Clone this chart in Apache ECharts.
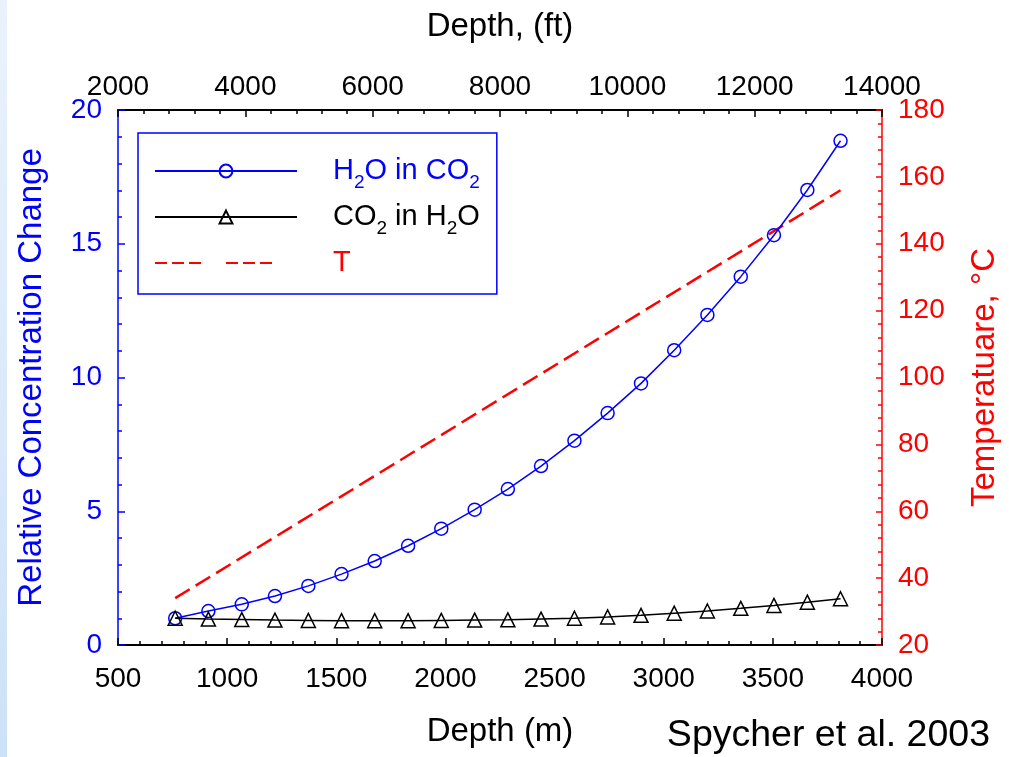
<!DOCTYPE html>
<html>
<head>
<meta charset="utf-8">
<script src="https://cdn.jsdelivr.net/npm/echarts@6/dist/echarts.min.js"></script>
<style>
html,body{margin:0;padding:0;background:#fff;}
#chart{width:1009px;height:757px;}
</style>
</head>
<body>
<div id="chart"></div>
<script>
// Depth (m) of the plotted points
var depthM = [762, 914, 1067, 1219, 1372, 1524, 1676, 1829, 1981, 2134, 2286, 2438, 2591, 2743, 2896, 3048, 3200, 3353, 3505, 3658, 3810];
// Relative concentration change, H2O in CO2
var h2oInCo2 = [1.0, 1.27, 1.52, 1.83, 2.21, 2.65, 3.14, 3.71, 4.35, 5.06, 5.83, 6.69, 7.64, 8.67, 9.78, 11.02, 12.34, 13.77, 15.32, 17.01, 18.85];
// Relative concentration change, CO2 in H2O
var co2InH2o = [1.0, 0.97, 0.95, 0.93, 0.92, 0.91, 0.91, 0.91, 0.92, 0.93, 0.94, 0.97, 1.0, 1.05, 1.11, 1.19, 1.27, 1.37, 1.48, 1.6, 1.73];
// Temperature line (end points)
var tempDepth = [762, 3810];
var tempC = [34, 156];

var seriesNames = ['H2O in CO2', 'CO2 in H2O', 'T'];
var legendRich = {
  'H2O in CO2': '{n|H}{s|2}{n|O in CO}{s|2}',
  'CO2 in H2O': '{n|CO}{s|2}{n| in H}{s|2}{n|O}',
  'T': '{t|T}'
};

function pairs(xs, ys) {
  return xs.map(function (x, i) { return [x, ys[i]]; });
}
function plain(v) { return String(v); }

var FONT = '"Liberation Sans", Arial, Helvetica, sans-serif';
var BLUE = '#0000ff', RED = '#ff0000', BLACK = '#000000';
var NONE = 'rgba(255,255,255,0)';

var chart = echarts.init(document.getElementById('chart'), null, {renderer: 'canvas'});

chart.setOption({
  backgroundColor: '#ffffff',
  animation: false,
  textStyle: {fontFamily: FONT},
  grid: {left: 118, right: 127, top: 110, bottom: 112},
  graphic: [
    {
      type: 'rect', silent: true,
      shape: {x: 0, y: 0, width: 7, height: 757},
      style: {fill: new echarts.graphic.LinearGradient(0, 0, 0, 1, [
        {offset: 0, color: '#eaf2fc'}, {offset: 1, color: '#cde1f8'}
      ])}
    },
    {
      type: 'text', silent: true,
      style: {
        text: 'Spycher et al. 2003', x: 990, y: 736,
        align: 'right', verticalAlign: 'middle',
        fontSize: 37.5, fontFamily: FONT, fill: '#000'
      }
    }
  ],
  legend: {
    left: 138, top: 133,
    orient: 'vertical',
    itemWidth: 142, itemHeight: 16, itemGap: 10,
    padding: [23.5, 17, 16.5, 16],
    borderColor: BLUE, borderWidth: 1.5,
    backgroundColor: '#fff',
    data: [
      {name: seriesNames[0], textStyle: {color: BLUE}},
      {name: seriesNames[1], textStyle: {color: BLACK}},
      {name: seriesNames[2], textStyle: {color: RED},
       itemStyle: {color: NONE, borderColor: NONE, borderWidth: 0, opacity: 0},
       lineStyle: {type: [12, 5, 12, 5, 12, 25]}}
    ],
    formatter: function (name) { return legendRich[name]; },
    textStyle: {
      fontFamily: FONT, fontSize: 29,
      padding: [0, 0, 0, 31],
      rich: {
        n: {fontSize: 29, lineHeight: 43, fontFamily: FONT},
        s: {fontSize: 19, verticalAlign: 'bottom', fontFamily: FONT},
        t: {fontSize: 29, lineHeight: 33, fontFamily: FONT}
      }
    }
  },
  xAxis: [
    {
      type: 'value', position: 'bottom',
      min: 500, max: 4000, interval: 500,
      name: 'Depth (m)', nameLocation: 'middle', nameGap: 70,
      nameTextStyle: {fontSize: 33, color: BLACK, fontFamily: FONT},
      axisLine: {show: true, lineStyle: {color: BLACK, width: 2}},
      axisTick: {show: true, inside: true, length: 7, lineStyle: {color: BLACK, width: 1.5}},
      minorTick: {show: true, splitNumber: 5, length: 4, lineStyle: {color: BLACK, width: 1.5}},
      axisLabel: {fontSize: 28, color: BLACK, margin: 20, fontFamily: FONT, formatter: plain},
      splitLine: {show: false}
    },
    {
      type: 'value', position: 'top',
      min: 2000, max: 14000, interval: 2000,
      name: 'Depth, (ft)', nameLocation: 'middle', nameGap: 67,
      nameTextStyle: {fontSize: 33, color: BLACK, fontFamily: FONT},
      axisLine: {show: true, lineStyle: {color: BLACK, width: 2}},
      axisTick: {show: true, inside: true, length: 7, lineStyle: {color: BLACK, width: 1.5}},
      minorTick: {show: true, splitNumber: 5, length: 4, lineStyle: {color: BLACK, width: 1.5}},
      axisLabel: {fontSize: 28, color: BLACK, margin: 9, fontFamily: FONT, formatter: plain},
      splitLine: {show: false}
    }
  ],
  yAxis: [
    {
      type: 'value', position: 'left',
      min: 0, max: 20, interval: 5,
      name: 'Relative Concentration Change', nameLocation: 'middle', nameGap: 70, nameRotate: 90,
      nameTextStyle: {fontSize: 33, color: BLUE, fontFamily: FONT},
      axisLine: {show: true, lineStyle: {color: BLUE, width: 1.5}},
      axisTick: {show: true, inside: true, length: 7, lineStyle: {color: BLUE, width: 1.5}},
      minorTick: {show: true, splitNumber: 5, length: 4, lineStyle: {color: BLUE, width: 1.5}},
      axisLabel: {fontSize: 28, color: BLUE, margin: 16, fontFamily: FONT, formatter: plain},
      splitLine: {show: false}
    },
    {
      type: 'value', position: 'right',
      min: 20, max: 180, interval: 20,
      name: 'Temperatuare, °C', nameLocation: 'middle', nameGap: 86, nameRotate: 90,
      nameTextStyle: {fontSize: 33, color: RED, fontFamily: FONT},
      axisLine: {show: true, lineStyle: {color: RED, width: 1.5}},
      axisTick: {show: true, inside: true, length: 6, lineStyle: {color: RED, width: 1.5}},
      minorTick: {show: true, splitNumber: 5, length: 4, lineStyle: {color: RED, width: 1.5}},
      axisLabel: {fontSize: 28, color: RED, margin: 16, fontFamily: FONT, formatter: plain},
      splitLine: {show: false}
    }
  ],
  series: [
    {
      name: seriesNames[0], type: 'line',
      xAxisIndex: 0, yAxisIndex: 0,
      data: pairs(depthM, h2oInCo2),
      symbol: 'circle', symbolSize: 13,
      itemStyle: {color: NONE, borderColor: BLUE, borderWidth: 1.5},
      lineStyle: {color: BLUE, width: 1.5},
      z: 3
    },
    {
      name: seriesNames[1], type: 'line',
      xAxisIndex: 0, yAxisIndex: 0,
      data: pairs(depthM, co2InH2o),
      symbol: 'triangle', symbolSize: 14,
      itemStyle: {color: NONE, borderColor: BLACK, borderWidth: 1.5},
      lineStyle: {color: BLACK, width: 1.5},
      z: 3
    },
    {
      name: seriesNames[2], type: 'line',
      xAxisIndex: 0, yAxisIndex: 1,
      data: pairs(tempDepth, tempC),
      symbol: 'none',
      itemStyle: {color: RED},
      lineStyle: {color: RED, width: 2.5, type: [17, 7]},
      z: 2
    }
  ]
});
</script>
</body>
</html>
